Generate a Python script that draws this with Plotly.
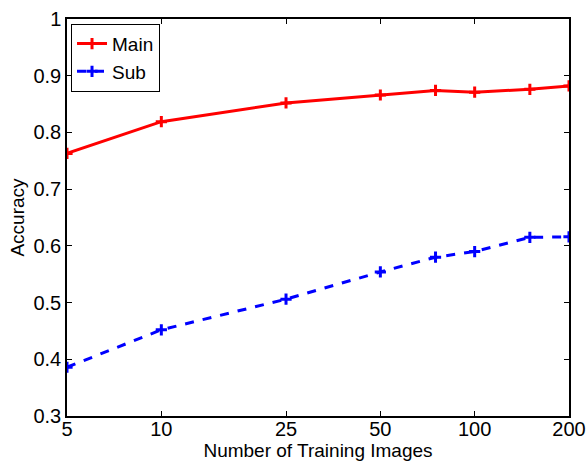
import plotly.graph_objects as go

num_images = [5, 10, 25, 50, 75, 100, 150, 200]
main_acc = [0.763, 0.819, 0.852, 0.866, 0.874, 0.871, 0.876, 0.882]
sub_acc = [0.386, 0.452, 0.506, 0.554, 0.580, 0.590, 0.615, 0.616]
x_ticks = [5, 10, 25, 50, 100, 200]
y_ticks = [0.3, 0.4, 0.5, 0.6, 0.7, 0.8, 0.9, 1.0]
y_tick_text = ["0.3", "0.4", "0.5", "0.6", "0.7", "0.8", "0.9", "1"]

fig = go.Figure()
fig.add_trace(go.Scatter(
    x=num_images, y=main_acc, name="Main", mode="lines+markers",
    line=dict(color="#ff0000", width=3),
    marker=dict(symbol="cross-thin", size=8, color="#ff0000",
                line=dict(color="#ff0000", width=3)),
))
fig.add_trace(go.Scatter(
    x=num_images, y=sub_acc, name="Sub", mode="lines+markers",
    line=dict(color="#0000ff", width=3, dash="dash"),
    marker=dict(symbol="cross-thin", size=8, color="#0000ff",
                line=dict(color="#0000ff", width=3)),
))

font_family = "Liberation Sans, Arial, sans-serif"
fig.update_layout(
    width=587, height=462,
    margin=dict(l=67, r=18, t=19, b=46, autoexpand=False),
    paper_bgcolor="white", plot_bgcolor="white",
    font=dict(family=font_family, size=20, color="black"),
    showlegend=True,
    legend=dict(x=0.008, y=0.988, xanchor="left", yanchor="top",
                bordercolor="black", borderwidth=1, bgcolor="white",
                font=dict(size=19), tracegroupgap=0, itemwidth=30,
                traceorder="normal"),
    xaxis=dict(type="log", range=[0.69897, 2.30103], automargin=False,
               tickvals=x_ticks, ticktext=[str(v) for v in x_ticks],
               ticks="inside", ticklen=5, tickcolor="black",
               ticklabelstandoff=-6,
               showline=True, linecolor="black", linewidth=1.5, mirror="ticks",
               showgrid=False, zeroline=False,
               tickfont=dict(size=20),
               title=dict(text="Number of Training Images", standoff=0,
                          font=dict(size=19))),
    yaxis=dict(range=[0.3, 1.0], tickvals=y_ticks, ticktext=y_tick_text,
               automargin=False,
               ticks="inside", ticklen=5, tickcolor="black",
               showline=True, linecolor="black", linewidth=1.5, mirror="ticks",
               showgrid=False, zeroline=False,
               tickfont=dict(size=20),
               title=dict(text="Accuracy", standoff=4, font=dict(size=19))),
)

fig.write_html("out.html")
